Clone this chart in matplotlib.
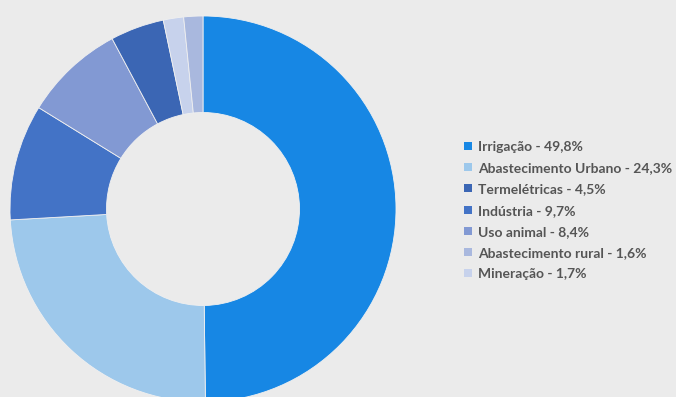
import matplotlib
matplotlib.use("Agg")
import matplotlib.pyplot as plt
from matplotlib.patches import Rectangle

# Wedges in drawing order (clockwise from the top)
sectors = ["Irrigação", "Abastecimento Urbano", "Indústria", "Uso animal",
           "Termelétricas", "Mineração", "Abastecimento rural"]
shares = [49.8, 24.3, 9.7, 8.4, 4.5, 1.7, 1.6]
colors = {
    "Irrigação": "#1787e4",
    "Abastecimento Urbano": "#9dc8eb",
    "Termelétricas": "#3b66b4",
    "Indústria": "#4373c6",
    "Uso animal": "#8299d3",
    "Abastecimento rural": "#a9b8de",
    "Mineração": "#c7d2ec",
}
# Legend order
legend_order = ["Irrigação", "Abastecimento Urbano", "Termelétricas", "Indústria",
                "Uso animal", "Abastecimento rural", "Mineração"]

bg = "#ebebeb"
plt.rcParams["font.family"] = ["Lato", "DejaVu Sans"]

W, H = 676, 397
fig = plt.figure(figsize=(W / 100, H / 100), dpi=100, facecolor=bg)

cx, cy, r = 203, 209, 193
ax = fig.add_axes([(cx - r) / W, (H - cy - r) / H, 2 * r / W, 2 * r / H])
ax.set_facecolor(bg)
ax.pie(shares, colors=[colors[s] for s in sectors], startangle=90,
       counterclock=False, radius=1.0,
       wedgeprops=dict(width=0.5, linewidth=0.6, edgecolor="#f0f0f0"))
ax.set_xlim(-1, 1)
ax.set_ylim(-1, 1)
ax.set_aspect("equal")
ax.axis("off")

# Legend: small squares with labels, laid out in pixel units
value = dict(zip(sectors, shares))
box_x, text_x, first_y, step, box = 464, 478, 146, 21.2, 8
for i, s in enumerate(legend_order):
    yc = first_y + i * step
    fig.patches.append(Rectangle(((box_x) / W, 1 - (yc + box / 2) / H),
                                 box / W, box / H, facecolor=colors[s],
                                 edgecolor="none", transform=fig.transFigure))
    label = f"{s} - {value[s]:.1f}%".replace(".", ",")
    fig.text(text_x / W, 1 - yc / H, label, ha="left", va="center_baseline",
             fontsize=10, fontweight="bold", color="#555555")

fig.savefig("out.png", dpi=100, facecolor=bg)
